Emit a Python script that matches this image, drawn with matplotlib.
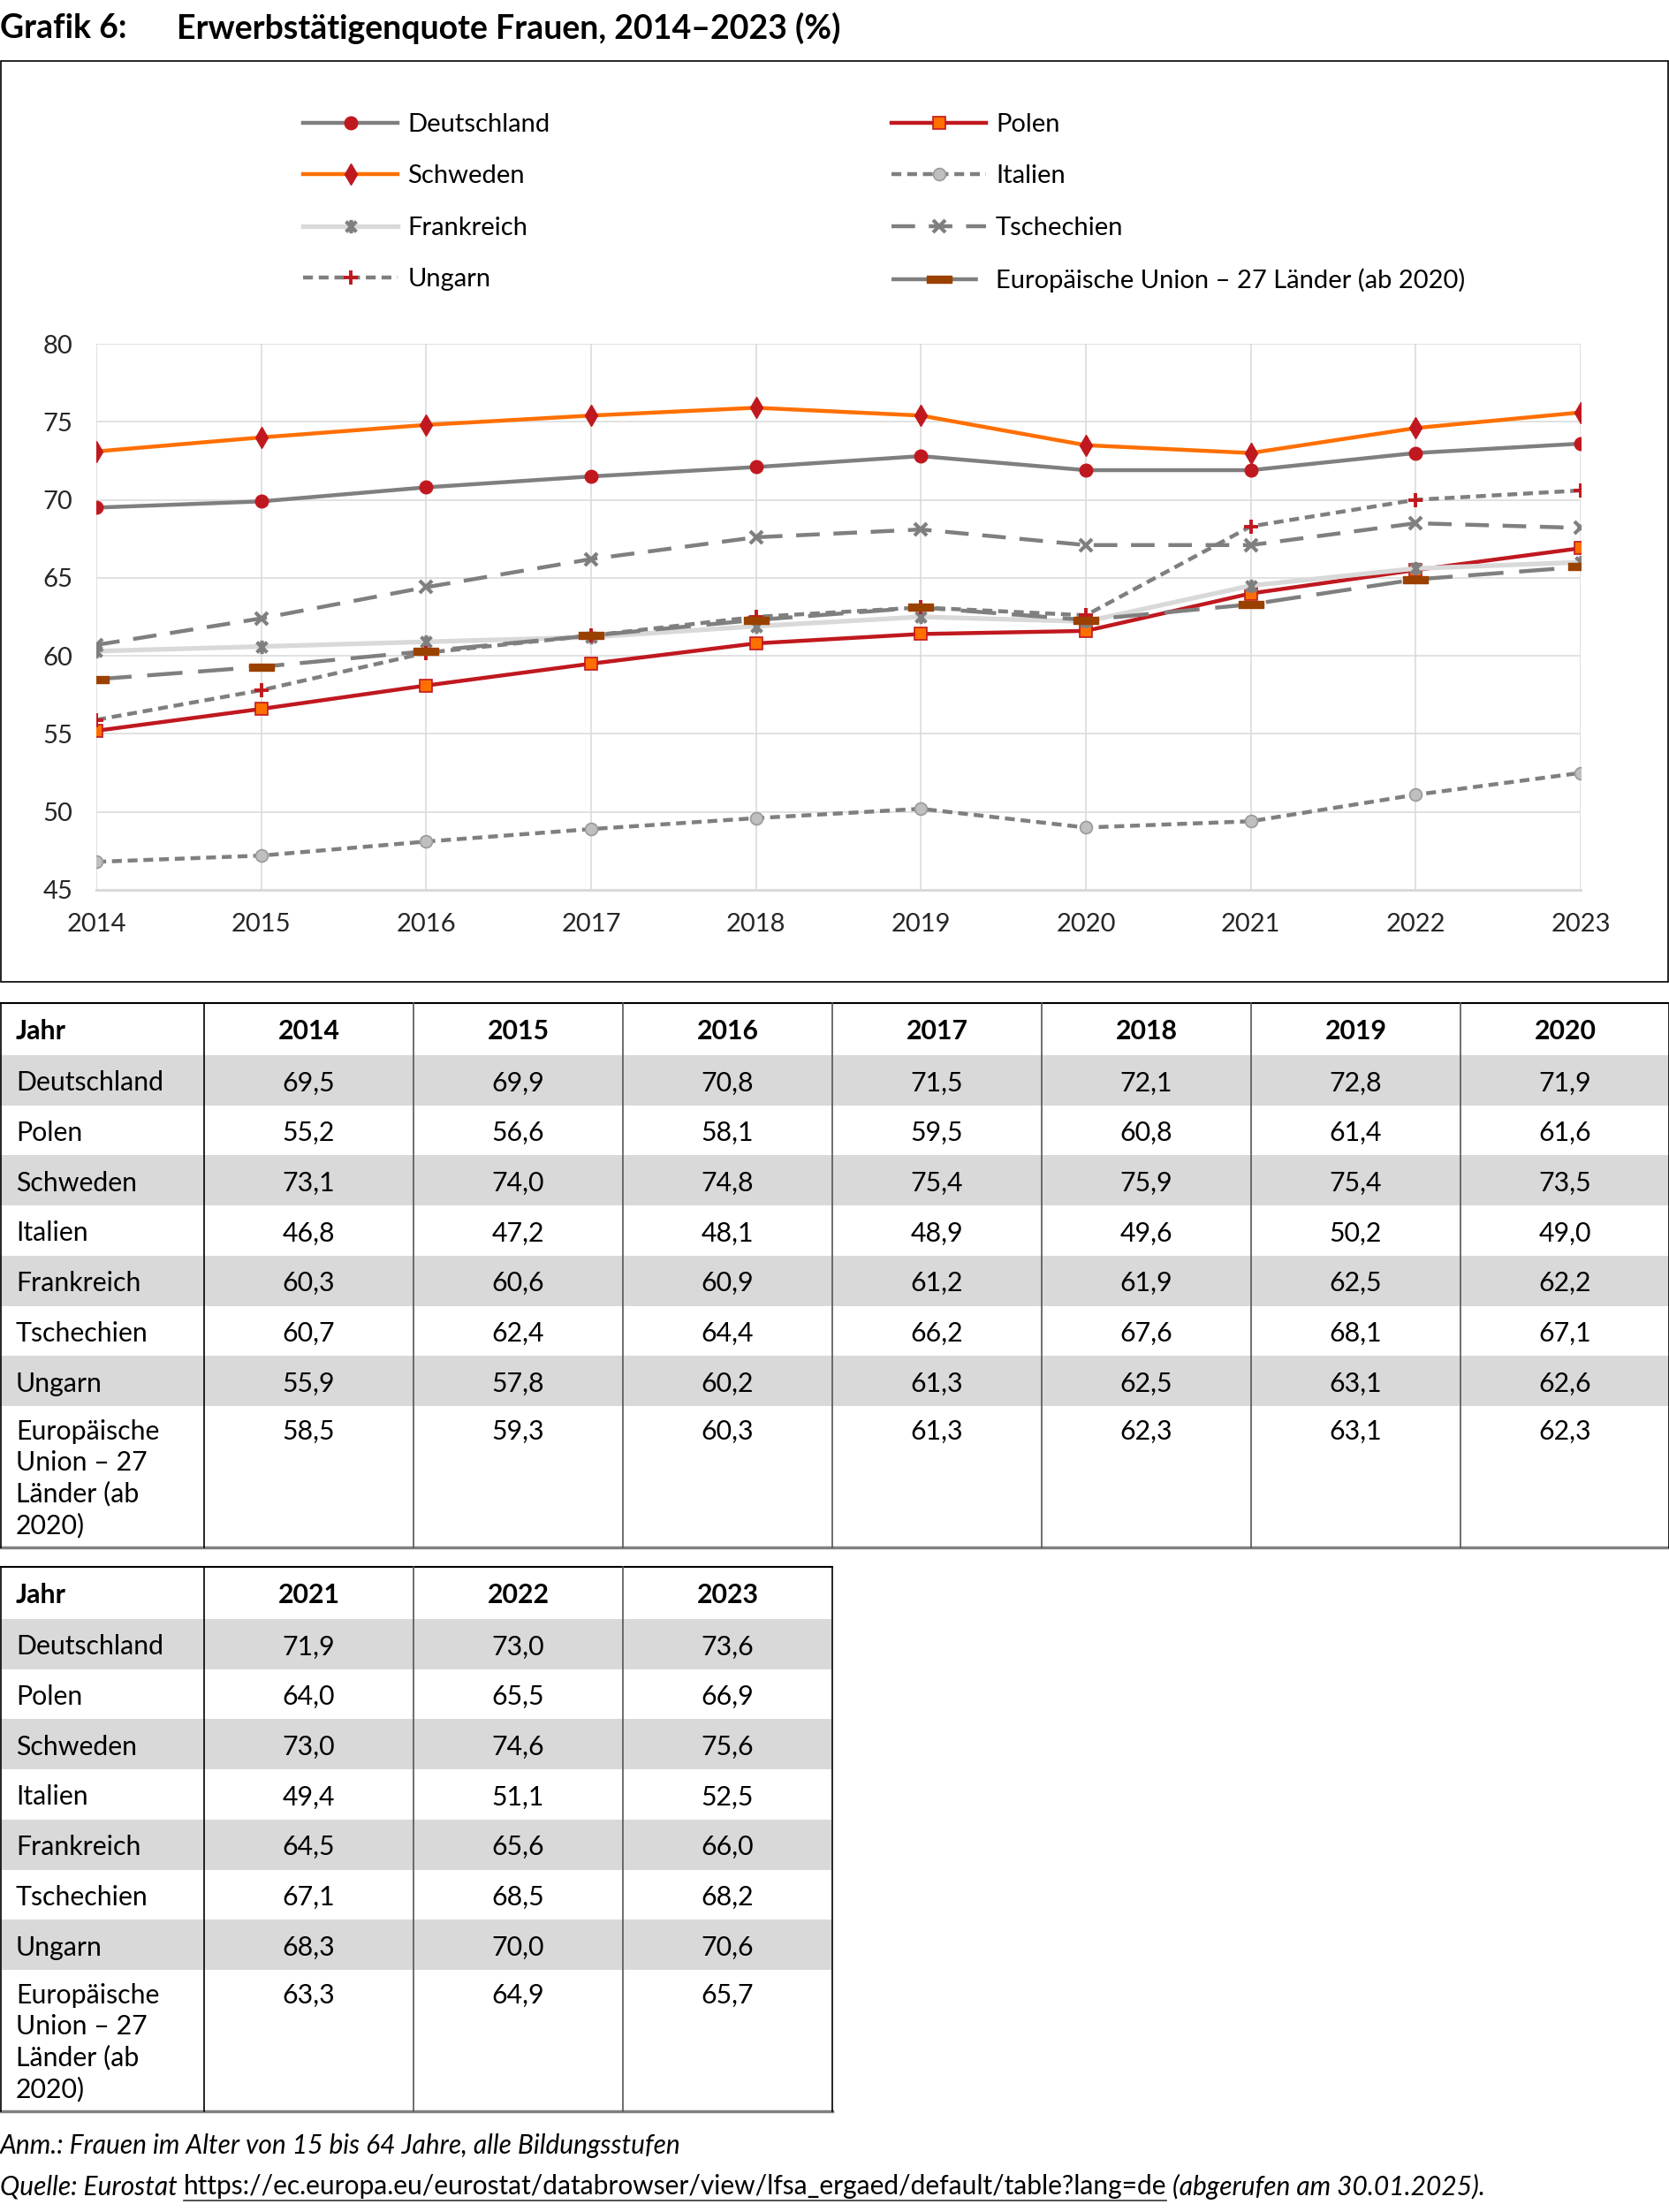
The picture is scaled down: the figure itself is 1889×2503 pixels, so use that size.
import matplotlib
matplotlib.use('Agg')
import matplotlib.pyplot as plt
from matplotlib.path import Path
from matplotlib.patches import Rectangle

plt.rcParams['font.family'] = ['Lato', 'DejaVu Sans']

# data (Eurostat, women 15-64)
years = [2014, 2015, 2016, 2017, 2018, 2019, 2020, 2021, 2022, 2023]
deutschland = [69.5, 69.9, 70.8, 71.5, 72.1, 72.8, 71.9, 71.9, 73.0, 73.6]
polen = [55.2, 56.6, 58.1, 59.5, 60.8, 61.4, 61.6, 64.0, 65.5, 66.9]
schweden = [73.1, 74.0, 74.8, 75.4, 75.9, 75.4, 73.5, 73.0, 74.6, 75.6]
italien = [46.8, 47.2, 48.1, 48.9, 49.6, 50.2, 49.0, 49.4, 51.1, 52.5]
frankreich = [60.3, 60.6, 60.9, 61.2, 61.9, 62.5, 62.2, 64.5, 65.6, 66.0]
tschechien = [60.7, 62.4, 64.4, 66.2, 67.6, 68.1, 67.1, 67.1, 68.5, 68.2]
ungarn = [55.9, 57.8, 60.2, 61.3, 62.5, 63.1, 62.6, 68.3, 70.0, 70.6]
eu27 = [58.5, 59.3, 60.3, 61.3, 62.3, 63.1, 62.3, 63.3, 64.9, 65.7]

eu_label = "Europäische Union – 27 Länder (ab 2020)"
eu_label_table = "Europäische\nUnion – 27\nLänder (ab\n2020)"
row_names = ["Deutschland", "Polen", "Schweden", "Italien", "Frankreich",
             "Tschechien", "Ungarn", eu_label_table]
rows = [deutschland, polen, schweden, italien, frankreich, tschechien, ungarn, eu27]

GRAY = '#7f7f7f'
RED = '#c0181f'
ORANGE = '#ff6f00'
LIGHT = '#d9d9d9'
BROWN = '#9a4100'
FS = 21
TFS = 21.8

W, H = 1890, 2503
fig = plt.figure(figsize=(W / 100, H / 100), dpi=100)

bg = fig.add_axes([0, 0, 1, 1])
bg.set_xlim(0, W)
bg.set_ylim(H, 0)
bg.axis('off')

# title
bg.text(0, 32, "Grafik 6:", fontsize=27, fontweight='bold', va='center')
bg.text(200, 32, "Erwerbstätigenquote Frauen, 2014–2023 (%)", fontsize=27,
        fontweight='bold', va='center')

# chart frame
bg.add_patch(Rectangle((1, 69), W - 3, 1042, fill=False, ec='black', lw=1.2))

ax = fig.add_axes([109 / W, 1 - 1007 / H, (1789 - 109) / W, (1007 - 389) / H])
ax.set_zorder(3)
ax.patch.set_alpha(0)

star = Path([(-1, -1), (1, 1), (-1, 1), (1, -1), (0, -1.3), (0, 1.3)],
            [Path.MOVETO, Path.LINETO, Path.MOVETO, Path.LINETO, Path.MOVETO, Path.LINETO])
bar = Path([(-1.5, -0.45), (1.5, -0.45), (1.5, 0.45), (-1.5, 0.45), (-1.5, -0.45)],
           [Path.MOVETO, Path.LINETO, Path.LINETO, Path.LINETO, Path.CLOSEPOLY])

lw = 3.2
h_de, = ax.plot(years, deutschland, color=GRAY, lw=lw, marker='o', ms=10.5,
                mfc=RED, mec=RED, label="Deutschland")
h_pl, = ax.plot(years, polen, color=RED, lw=lw, marker='s', ms=9.5,
                mfc=ORANGE, mec=RED, mew=1.2, label="Polen")
h_se, = ax.plot(years, schweden, color=ORANGE, lw=lw, marker='d', ms=12,
                mfc=RED, mec=RED, label="Schweden")
h_it, = ax.plot(years, italien, color=GRAY, lw=lw, dashes=(2.5, 1.5), marker='o',
                ms=10, mfc='#bfbfbf', mec='#9a9a9a', mew=1.2, label="Italien")
h_fr, = ax.plot(years, frankreich, color=LIGHT, lw=lw + 0.6, marker=star, ms=11,
                mec=GRAY, mew=3, label="Frankreich")
h_cz, = ax.plot(years, tschechien, color=GRAY, lw=lw, dashes=(6, 3.5), marker='x',
                ms=10.5, mec=GRAY, mew=3, label="Tschechien")
h_hu, = ax.plot(years, ungarn, color=GRAY, lw=lw, dashes=(2.5, 1.5), marker='+',
                ms=12, mec=RED, mew=2.8, label="Ungarn")
h_eu, = ax.plot(years, eu27, color=GRAY, lw=lw, dashes=(9, 4), marker=bar, ms=20,
                mfc=BROWN, mec=BROWN, mew=1, label=eu_label)

ax.set_xlim(2014, 2023)
ax.set_ylim(45, 80)
ax.set_xticks(years)
ax.set_yticks(range(45, 81, 5))
ax.grid(True, color=LIGHT, lw=1.1)
ax.set_axisbelow(True)
for s in ['top', 'right', 'left']:
    ax.spines[s].set_visible(False)
ax.spines['bottom'].set_color(LIGHT)
ax.spines['bottom'].set_linewidth(2.2)
ax.tick_params(length=0, labelsize=FS, labelcolor='#262626')
ax.tick_params(axis='y', pad=19)
ax.tick_params(axis='x', pad=19)

leg_kw = dict(loc='upper left', frameon=False, fontsize=FS, borderpad=0,
              borderaxespad=0, handlelength=3.67, handletextpad=0.38,
              labelspacing=1.11, numpoints=1)
fig.legend([h_de, h_se, h_fr, h_hu], ["Deutschland", "Schweden", "Frankreich", "Ungarn"],
           bbox_to_anchor=(343 / W, 1 - 128 / H), **leg_kw)
fig.legend([h_pl, h_it, h_cz, h_eu], ["Polen", "Italien", "Tschechien", eu_label],
           bbox_to_anchor=(1009 / W, 1 - 128 / H), **leg_kw)


def fmt(v):
    return f"{v:.1f}".replace('.', ',')


def draw_table(top, idx, width_cols=237, first_col=231):
    xs = [0, first_col] + [first_col + width_cols * (k + 1) for k in range(len(idx))]
    right = xs[-1]
    head_h, row_h, last_h = 59, 56.7, 160
    heights = [head_h] + [row_h] * 7 + [last_h]
    y = top
    # header
    yc = y + head_h / 2 + 3
    bg.text(18, yc, "Jahr", fontsize=TFS, fontweight='bold', va='center')
    for k, i in enumerate(idx):
        bg.text((xs[k + 1] + xs[k + 2]) / 2, yc, str(years[i]), fontsize=TFS,
                fontweight='bold', va='center', ha='center')
    y += head_h
    for r, (name, vals) in enumerate(zip(row_names, rows)):
        h = heights[r + 1]
        if r % 2 == 0:
            bg.add_patch(Rectangle((0, y), right, h, fc=LIGHT, ec='none', zorder=0))
        if r == 7:
            bg.text(18, y + 15, name, fontsize=TFS, va='top', linespacing=1.3)
            for k, i in enumerate(idx):
                bg.text((xs[k + 1] + xs[k + 2]) / 2, y + 15, fmt(vals[i]), fontsize=TFS,
                        va='top', ha='center')
        else:
            yc = y + h / 2 + 3
            bg.text(18, yc, name, fontsize=TFS, va='center')
            for k, i in enumerate(idx):
                bg.text((xs[k + 1] + xs[k + 2]) / 2, yc, fmt(vals[i]), fontsize=TFS,
                        va='center', ha='center')
        y += h
    bottom = y
    bg.plot([0, right], [top, top], color='black', lw=1.5)
    bg.plot([0, right], [bottom, bottom], color='#808080', lw=2.5)
    for k, x in enumerate(xs):
        x = min(max(x, 1), W - 1)
        bg.plot([x, x], [top, bottom], color='black' if k in (0, 1, len(xs) - 1) else '#555555',
                lw=1.2)


draw_table(1135, list(range(0, 7)))
draw_table(1773, [7, 8, 9])

# footnotes
NFS = 21.5
bg.text(0, 2428, "Anm.: Frauen im Alter von 15 bis 64 Jahre, alle Bildungsstufen",
        fontsize=NFS, style='italic', va='center')
fig.canvas.draw()
renderer = fig.canvas.get_renderer()
inv = bg.transData.inverted()
t1 = bg.text(0, 2474, "Quelle: Eurostat ", fontsize=NFS, style='italic', va='center')
x1 = inv.transform(t1.get_window_extent(renderer).get_points())[1][0]
url = "https://ec.europa.eu/eurostat/databrowser/view/lfsa_ergaed/default/table?lang=de"
t2 = bg.text(x1, 2474, url, fontsize=NFS, va='center')
x2 = inv.transform(t2.get_window_extent(renderer).get_points())[1][0]
bg.plot([x1, x2], [2490, 2490], color='#333333', lw=1.2)
bg.text(x2, 2474, " (abgerufen am 30.01.2025).", fontsize=NFS, style='italic', va='center')

fig.savefig('out.png', dpi=100)
